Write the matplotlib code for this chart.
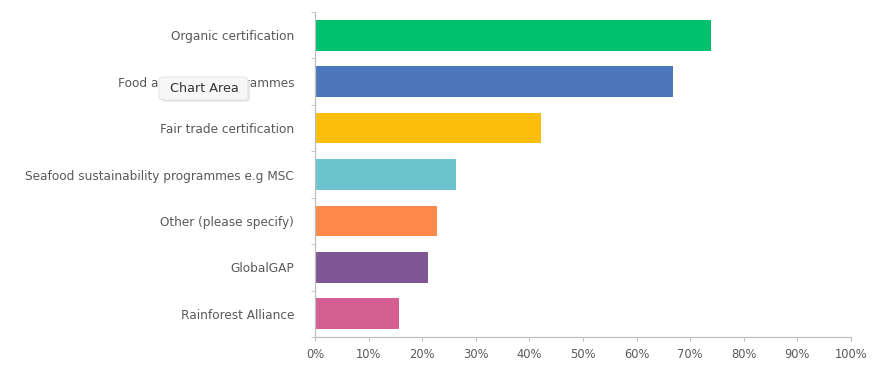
import matplotlib
matplotlib.use("Agg")
import matplotlib.pyplot as plt
from matplotlib.ticker import PercentFormatter, FixedLocator
from matplotlib.patches import FancyBboxPatch

# Datos
categories = [
    "Organic certification",
    "Food assurance programmes",
    "Fair trade certification",
    "Seafood sustainability programmes e.g MSC",
    "Other (please specify)",
    "GlobalGAP",
    "Rainforest Alliance",
]
values = [73.9, 66.8, 42.2, 26.3, 22.8, 21.1, 15.7]
colors = ["#00C16E", "#4D77BB", "#FBBE0A", "#6BC4CE", "#FF894A", "#7E5794", "#D55E93"]

plt.rcParams["font.family"] = ["DejaVu Sans"]

fig = plt.figure(figsize=(8.75, 3.65), dpi=100)
ax = fig.add_axes([0.36, 0.0767, 0.6126, 0.8903])

pos = range(len(categories))
ax.barh(pos, values, height=0.66, color=colors)
ax.set_ylim(len(categories) - 0.5, -0.5)
ax.set_xlim(0, 100)

ax.set_xticks(range(0, 101, 10))
ax.xaxis.set_major_formatter(PercentFormatter(decimals=0))
ax.set_yticks(list(pos))
ax.set_yticklabels(categories)
ax.yaxis.set_minor_locator(FixedLocator([i - 0.5 for i in range(len(categories) + 1)]))

ax.tick_params(axis="y", which="major", length=0, pad=15, labelsize=8.7, labelcolor="#595959")
ax.tick_params(axis="y", which="minor", length=3, color="#BFBFBF")
ax.tick_params(axis="x", length=3, color="#BFBFBF", labelsize=8.3, labelcolor="#595959", pad=5)

for side in ["top", "right"]:
    ax.spines[side].set_visible(False)
for side in ["left", "bottom"]:
    ax.spines[side].set_color("#BFBFBF")
    ax.spines[side].set_linewidth(0.9)

# Tooltip "Chart Area" que tapa parte de la etiqueta
shadow = FancyBboxPatch((161 / 875, 1 - 102 / 365), 89 / 875, 23 / 365,
                        boxstyle="round,pad=0,rounding_size=0.008",
                        transform=fig.transFigure, facecolor="#D9D9D9",
                        edgecolor="none", alpha=0.6, zorder=5)
box = FancyBboxPatch((159 / 875, 1 - 100 / 365), 89 / 875, 23 / 365,
                     boxstyle="round,pad=0,rounding_size=0.008",
                     transform=fig.transFigure, facecolor="#F7F7F7",
                     edgecolor="#E0E0E0", linewidth=0.6, zorder=6)
fig.patches.extend([shadow, box])
fig.text(204 / 875, 1 - 89 / 365, "Chart Area", ha="center", va="center",
         fontsize=9.2, color="#333333", zorder=7)

fig.savefig("out.png", dpi=100)
